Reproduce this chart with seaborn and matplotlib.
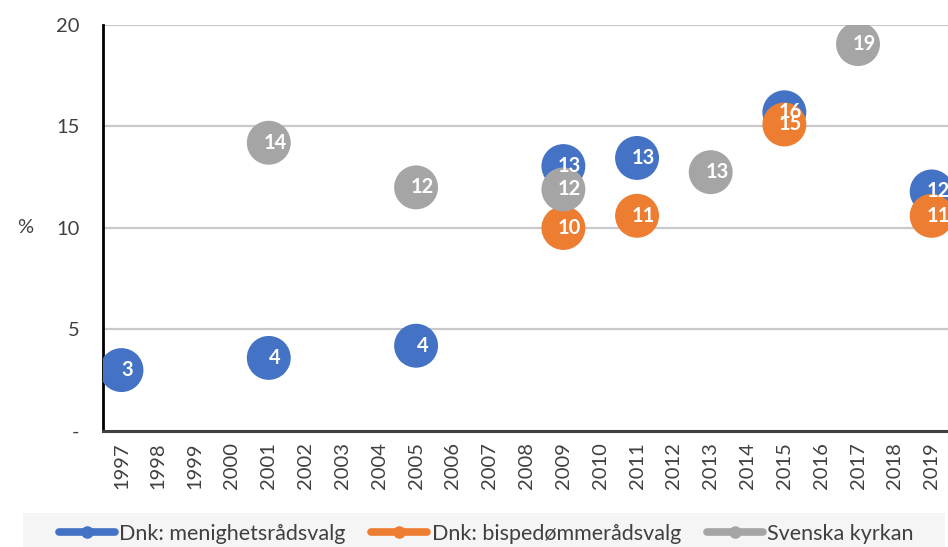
import matplotlib
matplotlib.use("Agg")
import matplotlib.pyplot as plt
from matplotlib.lines import Line2D
from matplotlib.patches import Rectangle
import seaborn as sns
import pandas as pd

years_all = list(range(1997, 2020))

series_names = ["Dnk: menighetsrådsvalg", "Dnk: bispedømmerådsvalg", "Svenska kyrkan"]
colors = ["#4472C4", "#ED7D31", "#A5A5A5"]

meni_years = [1997, 2001, 2005, 2009, 2011, 2015, 2019]
meni_vals = [3.0, 3.6, 4.2, 13.05, 13.45, 15.7, 11.8]

bisp_years = [2009, 2011, 2015, 2019]
bisp_vals = [10.0, 10.6, 15.1, 10.6]

sv_years = [2001, 2005, 2009, 2013, 2017]
sv_vals = [14.2, 12.0, 11.9, 12.75, 19.06]

ytick_vals = [0, 5, 10, 15, 20]
ytick_labels = ["-", "5", "10", "15", "20"]

rows = []
for name, ys, vs in zip(series_names, [meni_years, bisp_years, sv_years],
                        [meni_vals, bisp_vals, sv_vals]):
    for y, v in zip(ys, vs):
        rows.append({"year": y, "value": v, "series": name})
df = pd.DataFrame(rows)

sns.set_theme(style="white")
plt.rcParams["font.family"] = ["Lato", "DejaVu Sans"]

fig = plt.figure(figsize=(9.48, 5.47), dpi=100)
ax = fig.add_axes([0.1087, 0.2121, 0.8935, 0.7422])

for y in [5, 10, 15, 20]:
    ax.axhline(y, color="#C9C9C9", lw=1.6, zorder=0)

sns.scatterplot(data=df, x="year", y="value", hue="series",
                hue_order=series_names, palette=colors, s=1000,
                edgecolor="none", linewidth=0, alpha=1, legend=False,
                ax=ax, zorder=3)

for _, r in df.iterrows():
    ax.annotate(f"{int(round(r['value']))}", (r["year"], r["value"]),
                xytext=(4.5, 0), textcoords="offset points",
                ha="center", va="center", color="white",
                fontsize=14.5, fontweight="bold", zorder=5,
                annotation_clip=False)

ax.set_xlim(1996.5, 2019.5)
ax.set_ylim(0, 20)
ax.set_xticks(years_all)
ax.set_xticklabels([str(y) for y in years_all], rotation=90,
                   fontsize=14.5, color="#404040")
ax.set_yticks(ytick_vals)
ax.set_yticklabels(ytick_labels, fontsize=14.5, color="#404040")
ax.tick_params(axis="y", length=7, width=1.5, color="black", direction="out", pad=10)
ax.tick_params(axis="x", length=0, pad=8)
ax.set_xlabel("")
ax.set_ylabel("%", rotation=0, fontsize=14.5, color="#404040", labelpad=22, va="center")

for s in ["top", "right"]:
    ax.spines[s].set_visible(False)
ax.spines["left"].set_color("black")
ax.spines["left"].set_linewidth(2)
ax.spines["bottom"].set_color("#404040")
ax.spines["bottom"].set_linewidth(2.2)

# legend background band
fig.patches.append(Rectangle((23 / 948, 0), (945 - 23) / 948, 34 / 547,
                             transform=fig.transFigure, facecolor="#F5F5F5",
                             edgecolor="none", zorder=0))

handles = [Line2D([0], [0], color=c, lw=5.5, marker="o", markersize=8,
                  markerfacecolor=c, markeredgecolor=c) for c in colors]
fig.legend(handles, series_names, loc="center", bbox_to_anchor=(0.513, 0.024),
           ncol=3, frameon=False, fontsize=15.5, handlelength=2.6,
           handletextpad=0.2, columnspacing=1.2, labelcolor="#404040")

fig.savefig("out.png", dpi=100)
